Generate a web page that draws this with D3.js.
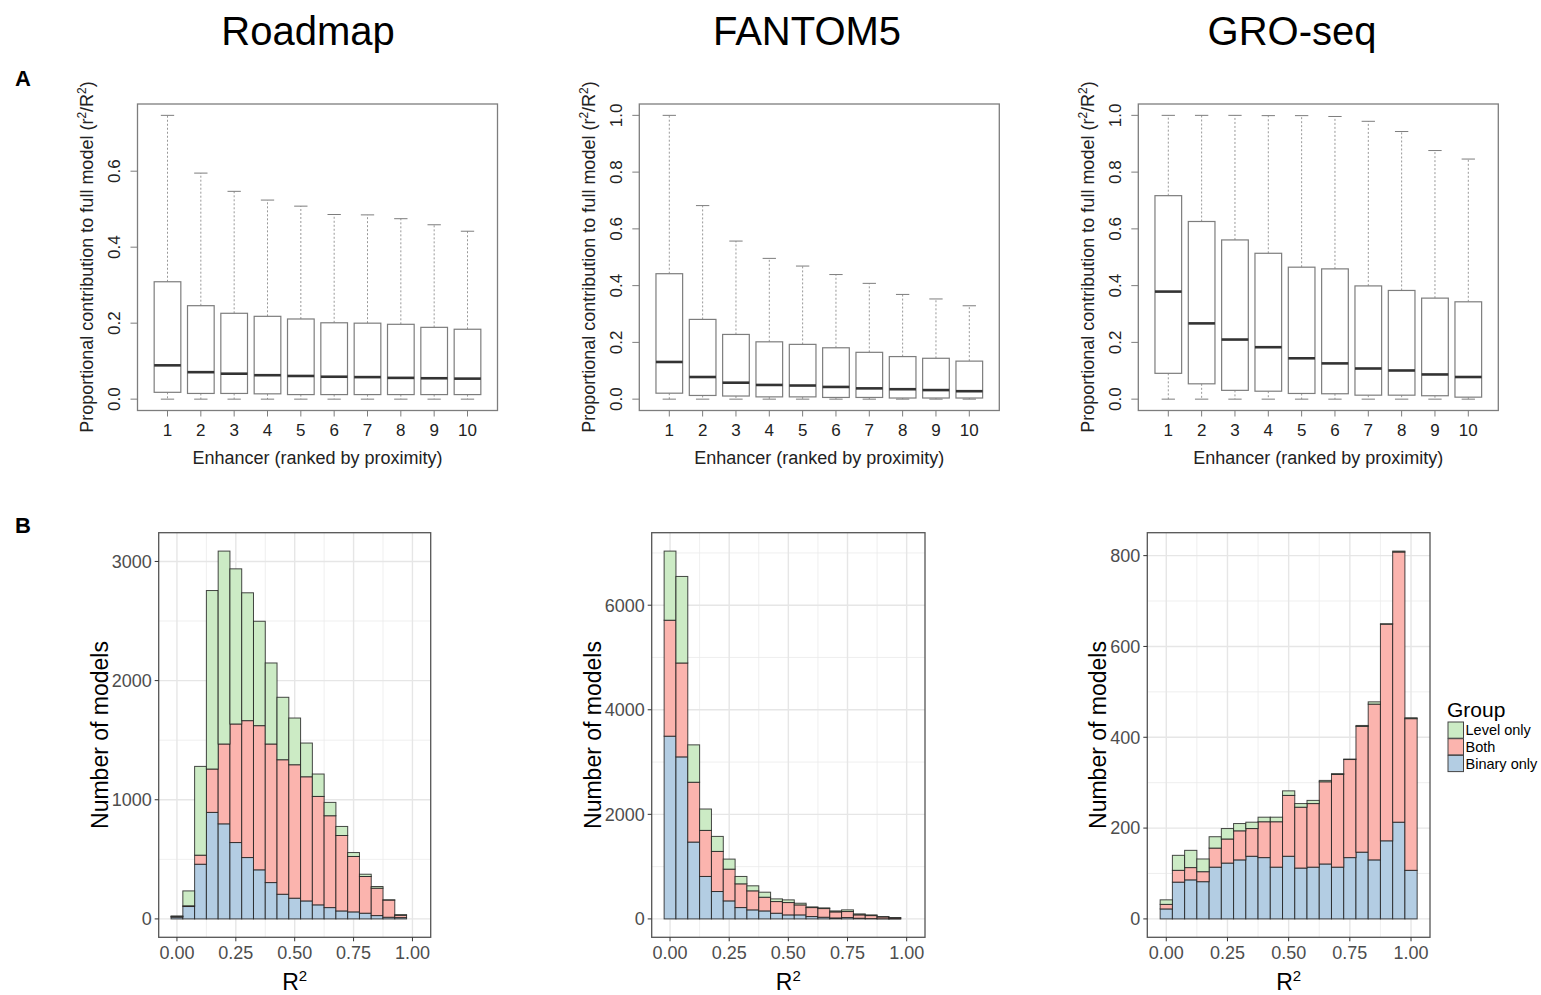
<!DOCTYPE html>
<html>
<head>
<script src="https://d3js.org/d3.v7.min.js"></script>
<style>
  body { margin: 0; background: #fff; }
  svg text { font-family: "Liberation Sans", Arial, sans-serif; }
</style>
</head>
<body>
<svg id="fig" width="1541" height="995"></svg>
<script>
// ---- A: boxplots, enhancer rank 1..10 ----
const ranks = [1, 2, 3, 4, 5, 6, 7, 8, 9, 10];

const roadmapHigh = [0.747, 0.595, 0.547, 0.524, 0.508, 0.486, 0.485, 0.475, 0.459, 0.442];
const roadmapQ3   = [0.309, 0.246, 0.226, 0.218, 0.211, 0.201, 0.200, 0.197, 0.189, 0.184];
const roadmapMed  = [0.089, 0.071, 0.067, 0.063, 0.061, 0.059, 0.058, 0.056, 0.055, 0.054];
const roadmapQ1   = [0.018, 0.015, 0.015, 0.014, 0.012, 0.012, 0.012, 0.012, 0.012, 0.012];
const roadmapLow  = [0, 0, 0, 0, 0, 0, 0, 0, 0, 0];

const fantomHigh = [1.0, 0.682, 0.557, 0.496, 0.469, 0.439, 0.408, 0.369, 0.353, 0.329];
const fantomQ3   = [0.442, 0.281, 0.228, 0.202, 0.193, 0.181, 0.165, 0.150, 0.144, 0.134];
const fantomMed  = [0.131, 0.078, 0.058, 0.050, 0.048, 0.043, 0.038, 0.035, 0.032, 0.028];
const fantomQ1   = [0.021, 0.013, 0.011, 0.008, 0.008, 0.006, 0.006, 0.004, 0.004, 0.004];
const fantomLow  = [0, 0, 0, 0, 0, 0, 0, 0, 0, 0];

const groHigh = [1.0, 1.0, 1.0, 0.999, 0.999, 0.996, 0.979, 0.943, 0.876, 0.846];
const groQ3   = [0.717, 0.626, 0.561, 0.514, 0.465, 0.459, 0.399, 0.383, 0.356, 0.343];
const groMed  = [0.379, 0.267, 0.210, 0.183, 0.144, 0.126, 0.108, 0.101, 0.087, 0.078];
const groQ1   = [0.091, 0.054, 0.031, 0.028, 0.020, 0.019, 0.014, 0.014, 0.012, 0.007];
const groLow  = [0, 0, 0, 0, 0, 0, 0, 0, 0, 0];

const roadmapTicksA = [0, 0.2, 0.4, 0.6];
const unitTicksA = [0, 0.2, 0.4, 0.6, 0.8, 1.0];

// ---- B: stacked histograms of R^2 ----
const r2Bins = [0, 0.05, 0.10, 0.15, 0.20, 0.25, 0.30, 0.35, 0.40, 0.45, 0.50,
                0.55, 0.60, 0.65, 0.70, 0.75, 0.80, 0.85, 0.90, 0.95, 1.00];
const groups = ["Binary only", "Both", "Level only"];
const legendOrder = ["Level only", "Both", "Binary only"];

const roadmapBinary = [15, 104, 459, 894, 798, 641, 515, 412, 305, 207, 174, 151, 118, 95, 67, 59, 48, 28, 14, 11, 0];
const roadmapBoth   = [5, 6, 76, 364, 670, 995, 1149, 1210, 1163, 1129, 1120, 1042, 910, 771, 633, 465, 308, 230, 144, 19, 0];
const roadmapLevel  = [5, 125, 745, 1498, 1619, 1302, 1073, 876, 680, 524, 392, 283, 188, 112, 76, 33, 19, 14, 2, 6, 0];

const fantomBinary = [3495, 3099, 1470, 812, 524, 345, 217, 173, 153, 109, 77, 77, 45, 32, 19, 26, 13, 6, 3, 1, 0];
const fantomBoth   = [2218, 1796, 1144, 881, 767, 607, 454, 364, 262, 223, 236, 191, 172, 166, 115, 115, 64, 58, 35, 19, 0];
const fantomLevel  = [1322, 1655, 715, 409, 287, 192, 141, 96, 96, 51, 51, 32, 13, 13, 19, 32, 19, 13, 7, 6, 0];

const groBinary = [22, 81, 86, 82, 114, 123, 130, 138, 135, 114, 138, 112, 114, 121, 114, 135, 147, 130, 172, 213, 107];
const groBoth   = [10, 26, 27, 22, 42, 53, 64, 61, 79, 100, 134, 134, 140, 181, 204, 216, 277, 343, 477, 595, 334];
const groLevel  = [10, 33, 38, 28, 25, 23, 16, 14, 10, 10, 10, 8, 7, 3, 2, 1, 2, 5, 1, 2, 2];

const r2Ticks = [0, 0.25, 0.5, 0.75, 1.0];
const r2Minor = [0.125, 0.375, 0.625, 0.875];

const groupColor = d3.scaleOrdinal(groups, ["#B3CDE3", "#FBB4AE", "#CCEBC5"]);

const svg = d3.select("#fig");

// panel labels + titles
svg.append("text").attr("x", 15).attr("y", 86).attr("font-size", 22).attr("font-weight", "bold").text("A");
svg.append("text").attr("x", 15).attr("y", 533).attr("font-size", 22).attr("font-weight", "bold").text("B");

const titles = [["Roadmap", 308], ["FANTOM5", 807], ["GRO-seq", 1292]];
titles.forEach(t => {
  svg.append("text").attr("x", t[1]).attr("y", 45).attr("text-anchor", "middle")
    .attr("font-size", 40).text(t[0]);
});

// ---------- boxplots ----------
function drawBoxPanel(p) {
  const top = 104, bottom = 410.5;
  const g = svg.append("g");
  const x = d3.scaleLinear([0.1, 10.9], [p.left, p.left + 360]);
  const hi = d3.max(p.high);
  const y = d3.scaleLinear([-0.04 * hi, 1.04 * hi], [bottom, top]);
  const half = 0.4, cap = 0.2;
  const grey = "#7d7d7d";

  g.append("rect").attr("x", p.left).attr("y", top).attr("width", 360).attr("height", bottom - top)
    .attr("fill", "none").attr("stroke", grey).attr("stroke-width", 1.3);

  // x ticks
  ranks.forEach(r => {
    g.append("line").attr("x1", x(r)).attr("x2", x(r)).attr("y1", bottom).attr("y2", bottom + 6)
      .attr("stroke", grey);
    g.append("text").attr("x", x(r)).attr("y", 436).attr("text-anchor", "middle")
      .attr("font-size", 17).attr("fill", "#222").text(r);
  });
  // y ticks
  p.ticks.forEach(t => {
    g.append("line").attr("x1", p.left).attr("x2", p.left - 7).attr("y1", y(t)).attr("y2", y(t))
      .attr("stroke", grey);
    g.append("text").attr("transform", `translate(${p.left - 23},${y(t)}) rotate(-90)`)
      .attr("text-anchor", "middle").attr("dy", "0.35em").attr("font-size", 17).attr("fill", "#222")
      .text(d3.format(".1f")(t));
  });

  ranks.forEach((r, i) => {
    const cx = x(r);
    // whiskers
    g.append("line").attr("x1", cx).attr("x2", cx).attr("y1", y(p.q3[i])).attr("y2", y(p.high[i]))
      .attr("stroke", "#999").attr("stroke-dasharray", "2,2");
    g.append("line").attr("x1", cx).attr("x2", cx).attr("y1", y(p.q1[i])).attr("y2", y(p.low[i]))
      .attr("stroke", "#999").attr("stroke-dasharray", "2,2");
    [p.high[i], p.low[i]].forEach(v => {
      g.append("line").attr("x1", x(r - cap)).attr("x2", x(r + cap)).attr("y1", y(v)).attr("y2", y(v))
        .attr("stroke", grey);
    });
    g.append("rect").attr("x", x(r - half)).attr("y", y(p.q3[i]))
      .attr("width", x(r + half) - x(r - half)).attr("height", y(p.q1[i]) - y(p.q3[i]))
      .attr("fill", "#fff").attr("stroke", grey).attr("stroke-width", 1.2);
    g.append("line").attr("x1", x(r - half)).attr("x2", x(r + half)).attr("y1", y(p.med[i])).attr("y2", y(p.med[i]))
      .attr("stroke", "#333").attr("stroke-width", 2.6);
  });

  g.append("text").attr("x", p.left + 180).attr("y", 464).attr("text-anchor", "middle")
    .attr("font-size", 18).attr("fill", "#222").text("Enhancer (ranked by proximity)");

  const yl = g.append("text").attr("transform", `translate(${p.left - 51},257) rotate(-90)`)
    .attr("text-anchor", "middle").attr("dy", "0.35em").attr("font-size", 18).attr("fill", "#222");
  yl.append("tspan").text("Proportional contribution to full model (r");
  yl.append("tspan").attr("dy", -7).attr("font-size", 12).text("2");
  yl.append("tspan").attr("dy", 7).text("/R");
  yl.append("tspan").attr("dy", -7).attr("font-size", 12).text("2");
  yl.append("tspan").attr("dy", 7).text(")");
}

drawBoxPanel({ left: 137.5, high: roadmapHigh, q3: roadmapQ3, med: roadmapMed, q1: roadmapQ1, low: roadmapLow, ticks: roadmapTicksA });
drawBoxPanel({ left: 639.3, high: fantomHigh, q3: fantomQ3, med: fantomMed, q1: fantomQ1, low: fantomLow, ticks: unitTicksA });
drawBoxPanel({ left: 1138.3, high: groHigh, q3: groQ3, med: groMed, q1: groQ1, low: groLow, ticks: unitTicksA });

// ---------- histograms ----------
function drawHist(p) {
  const top = 532.7, bottom = 937.3;
  const g = svg.append("g");
  const x = d3.scaleLinear([-0.0775, 1.0775], [p.left, p.right]);
  const rows = r2Bins.map((b, i) => ({ bin: b, "Binary only": p.binary[i], "Both": p.both[i], "Level only": p.level[i] }));
  const series = d3.stack().keys(groups)(rows);
  const maxTot = d3.max(rows, d => d["Binary only"] + d["Both"] + d["Level only"]);
  const y = d3.scaleLinear([-0.05 * maxTot, 1.05 * maxTot], [bottom, top]);

  // grid
  const minorY = p.yTicks.slice(0, -1).map((t, i) => (t + p.yTicks[i + 1]) / 2);
  const lastStep = p.yTicks[1] - p.yTicks[0];
  const extra = p.yTicks[p.yTicks.length - 1] + lastStep / 2;
  if (extra < y.domain()[1]) minorY.push(extra);
  minorY.forEach(t => g.append("line").attr("x1", p.left).attr("x2", p.right).attr("y1", y(t)).attr("y2", y(t))
    .attr("stroke", "#EBEBEB").attr("stroke-width", 0.8));
  r2Minor.forEach(t => g.append("line").attr("x1", x(t)).attr("x2", x(t)).attr("y1", top).attr("y2", bottom)
    .attr("stroke", "#EBEBEB").attr("stroke-width", 0.8));
  p.yTicks.forEach(t => g.append("line").attr("x1", p.left).attr("x2", p.right).attr("y1", y(t)).attr("y2", y(t))
    .attr("stroke", "#E6E6E6").attr("stroke-width", 1.4));
  r2Ticks.forEach(t => g.append("line").attr("x1", x(t)).attr("x2", x(t)).attr("y1", top).attr("y2", bottom)
    .attr("stroke", "#E6E6E6").attr("stroke-width", 1.4));

  // bars
  series.forEach(s => {
    g.append("g").selectAll("rect").data(s).join("rect")
      .attr("x", d => x(d.data.bin - 0.025))
      .attr("width", x(0.05) - x(0))
      .attr("y", d => y(d[1]))
      .attr("height", d => y(d[0]) - y(d[1]))
      .attr("fill", groupColor(s.key))
      .attr("stroke", "#1a1a1a").attr("stroke-opacity", 0.8).attr("stroke-width", 1);
  });

  g.append("rect").attr("x", p.left).attr("y", top).attr("width", p.right - p.left).attr("height", bottom - top)
    .attr("fill", "none").attr("stroke", "#555").attr("stroke-width", 1.3);

  // axes
  p.yTicks.forEach(t => {
    g.append("line").attr("x1", p.left - 4).attr("x2", p.left).attr("y1", y(t)).attr("y2", y(t)).attr("stroke", "#333");
    g.append("text").attr("x", p.left - 7).attr("y", y(t)).attr("dy", "0.35em").attr("text-anchor", "end")
      .attr("font-size", 18).attr("fill", "#4D4D4D").text(t);
  });
  r2Ticks.forEach(t => {
    g.append("line").attr("x1", x(t)).attr("x2", x(t)).attr("y1", bottom).attr("y2", bottom + 4).attr("stroke", "#333");
    g.append("text").attr("x", x(t)).attr("y", 959).attr("text-anchor", "middle")
      .attr("font-size", 18).attr("fill", "#4D4D4D").text(d3.format(".2f")(t));
  });

  const xl = g.append("text").attr("x", (p.left + p.right) / 2).attr("y", 990).attr("text-anchor", "middle")
    .attr("font-size", 23);
  xl.append("tspan").text("R");
  xl.append("tspan").attr("dy", -9).attr("font-size", 15).text("2");

  g.append("text").attr("transform", `translate(${p.titleX},735) rotate(-90)`).attr("text-anchor", "middle")
    .attr("dy", "0.35em").attr("font-size", 23).text("Number of models");
}

drawHist({ left: 158.7, right: 430.7, titleX: 100, binary: roadmapBinary, both: roadmapBoth, level: roadmapLevel, yTicks: [0, 1000, 2000, 3000] });
drawHist({ left: 651.7, right: 925, titleX: 593, binary: fantomBinary, both: fantomBoth, level: fantomLevel, yTicks: [0, 2000, 4000, 6000] });
drawHist({ left: 1147.3, right: 1430, titleX: 1098, binary: groBinary, both: groBoth, level: groLevel, yTicks: [0, 200, 400, 600, 800] });

// legend
const lg = svg.append("g");
lg.append("text").attr("x", 1447).attr("y", 717).attr("font-size", 21).text("Group");
legendOrder.forEach((k, i) => {
  lg.append("rect").attr("x", 1448).attr("y", 722 + i * 16.7).attr("width", 15.5).attr("height", 16.2)
    .attr("fill", groupColor(k)).attr("stroke", "#444").attr("stroke-width", 1);
  lg.append("text").attr("x", 1465.5).attr("y", 722 + i * 16.7 + 8.1).attr("dy", "0.35em")
    .attr("font-size", 14.5).text(k);
});
</script>
</body>
</html>
